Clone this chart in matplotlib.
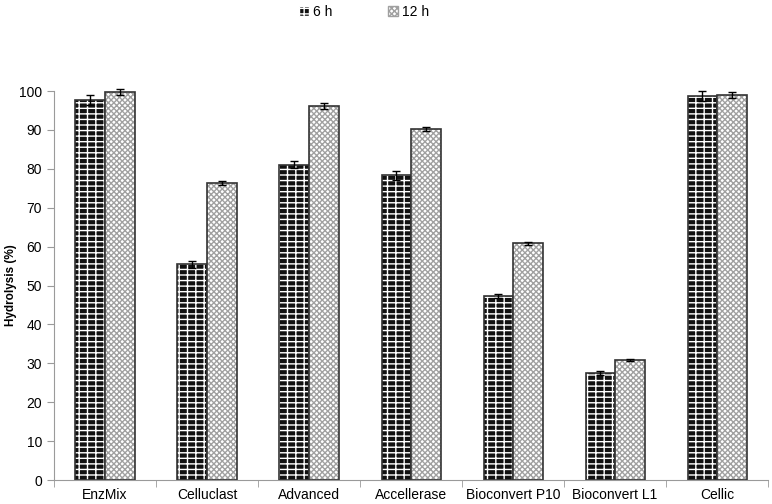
import numpy as np
import matplotlib
matplotlib.use('Agg')
import matplotlib.pyplot as plt
from matplotlib.patches import Patch

plt.rcParams['font.family'] = ['Liberation Sans', 'DejaVu Sans']
plt.rcParams['hatch.linewidth'] = 1.0

enzimas = ['EnzMix', 'Celluclast', 'Advanced', 'Accellerase',
           'Bioconvert P10', 'Bioconvert L1', 'Cellic']
h6 = [97.7, 55.5, 81.1, 78.3, 47.3, 27.6, 98.7]
h6_err = [1.3, 0.9, 1.0, 1.1, 0.6, 0.5, 1.2]
h12 = [99.7, 76.3, 96.2, 90.2, 60.9, 30.8, 98.9]
h12_err = [0.8, 0.5, 0.8, 0.6, 0.4, 0.2, 0.8]
yticks = [0, 10, 20, 30, 40, 50, 60, 70, 80, 90, 100]

fig = plt.figure(figsize=(7.72, 5.04), dpi=100)
ax = fig.add_axes([0.07, 0.0476, 0.925, 0.7718])

x = np.arange(len(enzimas))
w = 0.29
gris = '#9a9a9a'
ladrillo = '---||'
puntos = 'xxxxxx'

# 6 h: ladrillo oscuro (relleno negro, lineas blancas)
ax.bar(x - w / 2, h6, w, color='#111111', edgecolor='white', hatch=ladrillo, lw=0)
ax.bar(x - w / 2, h6, w, fill=False, edgecolor='#333333', lw=1.2)
# 12 h: punteado claro
ax.bar(x + w / 2, h12, w, color='white', edgecolor='#a0a0a0', hatch=puntos, lw=0)
ax.bar(x + w / 2, h12, w, fill=False, edgecolor='#333333', lw=1.2)

ax.errorbar(x - w / 2, h6, yerr=h6_err, fmt='none', ecolor='black', elinewidth=1,
            capsize=3, capthick=1, clip_on=False)
ax.errorbar(x + w / 2, h12, yerr=h12_err, fmt='none', ecolor='black', elinewidth=1,
            capsize=3, capthick=1, clip_on=False)

ax.set_xlim(-0.5, len(enzimas) - 0.5)
ax.set_ylim(0, 100)
ax.set_yticks(yticks)
ax.set_xticks(x)
ax.set_xticklabels(enzimas, fontsize=10)
ax.tick_params(axis='x', length=0, pad=6)
ax.set_xticks(np.arange(len(enzimas) + 1) - 0.5, minor=True)
ax.tick_params(axis='x', which='minor', length=5, color=gris, direction='out')
ax.tick_params(axis='y', labelsize=10, length=5, color=gris, direction='out')
for s in ['top', 'right']:
    ax.spines[s].set_visible(False)
for s in ['left', 'bottom']:
    ax.spines[s].set_color(gris)
ax.set_ylabel('Hydrolysis (%)', fontsize=8.5, fontweight='bold')
ax.yaxis.set_label_coords(-0.052, 0.5)

handles = [Patch(facecolor='#111111', edgecolor='white', hatch=ladrillo),
           Patch(facecolor='white', edgecolor='#a0a0a0', hatch=puntos)]
fig.legend(handles, ['6 h', '12 h'], loc='upper center', bbox_to_anchor=(0.472, 1.015),
           ncol=2, frameon=False, fontsize=10, handlelength=0.7, handleheight=0.7,
           handletextpad=0.3, columnspacing=4)

fig.savefig('out.png', dpi=100)
